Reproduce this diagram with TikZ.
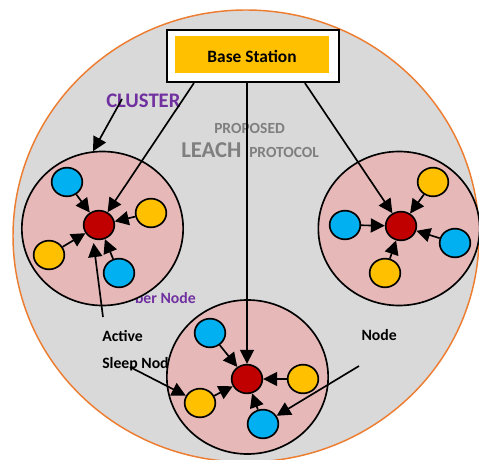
\documentclass[tikz,border=0pt]{standalone}
\usepackage{fontspec}
\setmainfont{Carlito}
\usetikzlibrary{shapes.geometric,arrows.meta,calc}

\definecolor{fieldgray}{HTML}{D9D9D9}
\definecolor{fieldedge}{HTML}{ED7D31}
\definecolor{clusterpink}{HTML}{E6B9B8}
\definecolor{memberblue}{HTML}{00B0F0}
\definecolor{memberyellow}{HTML}{FFC000}
\definecolor{headred}{HTML}{C00000}
\definecolor{stationorange}{HTML}{FFC000}
\definecolor{labelpurple}{HTML}{7030A0}
\definecolor{labelgray}{HTML}{7F7F7F}

\begin{document}
\begin{tikzpicture}[x=0.75pt,y=-0.75pt,
  cluster/.style={ellipse, draw=black, line width=1.25pt, fill=clusterpink,
    minimum width=121pt, minimum height=115.5pt, inner sep=0pt},
  sensor/.style={ellipse, draw=black, line width=1.25pt,
    minimum width=23pt, minimum height=21.5pt, inner sep=0pt},
  bluenode/.style={sensor, fill=memberblue},
  yellownode/.style={sensor, fill=memberyellow},
  headnode/.style={sensor, fill=headred},
  link/.style={line width=1.25pt, -{Triangle[length=10.5pt,width=10.5pt]}},
  lbl/.style={font=\bfseries\fontsize{11.8}{14}\selectfont, inner sep=0pt},
  smallcap/.style={font=\bfseries\fontsize{11.6}{14}\selectfont, text=labelgray, inner sep=0pt}
]
\useasboundingbox (0,0) rectangle (479,460);
\clip (0,0) rectangle (479,460);

% sensor field
\draw[fill=fieldgray, draw=fieldedge, line width=1.1pt]
  (246,236) ellipse [x radius=174.75pt, y radius=169.5pt];

% labels partly covered by the clusters
\node[lbl, text=labelpurple, anchor=base east] (memberlbl) at (196,303) {ber Node};
\node[lbl, anchor=base west] (sleeplbl) at (102,368) {Sleep Nod};

% clusters
\node[cluster] (clL) at (102.5,228.5) {};
\node[cluster] (clR) at (399,228.5) {};
\node[cluster] (clB) at (247.5,377) {};

% base station
\node[draw=black, line width=1.6pt, fill=white, minimum width=129pt, minimum height=39pt,
  inner sep=0pt] (bs) at (253,56) {};
\node[fill=stationorange, minimum width=115.5pt, minimum height=27.75pt, inner sep=0pt]
  (bsfill) at (252,54.5) {};
\node[font=\bfseries\fontsize{13}{15}\selectfont, anchor=base, inner sep=0pt]
  (bstext) at (252,63) {Base Station};

% titles
\node[font=\bfseries\fontsize{15.5}{18}\selectfont, text=labelpurple, anchor=base west,
  inner sep=0pt] (cltext) at (106,108) {CLUSTER};
\node[smallcap, anchor=base west] (proposed) at (214,133) {PROPOSED};
\node[font=\bfseries\fontsize{17}{20}\selectfont, text=labelgray, anchor=base west,
  inner sep=0pt] (leach) at (181,157) {LEACH};
\node[smallcap, anchor=base west] (protocol) at (249,157) {PROTOCOL};

% other labels
\node[lbl, anchor=base west] (activelbl) at (102,341) {Active};
\node[lbl, anchor=base east] (nodelbl) at (397,340) {Node};

% left cluster
\node[headnode] (hL) at (99,225) {};
\node[bluenode] (bL1) at (67,182) {};
\node[yellownode] (yL1) at (151,213) {};
\node[yellownode] (yL2) at (49,255) {};
\node[bluenode] (bL2) at (119,273) {};

% right cluster
\node[headnode] (hR) at (401,226) {};
\node[yellownode] (yR1) at (433,182) {};
\node[bluenode] (bR1) at (345,225) {};
\node[bluenode] (bR2) at (455,243) {};
\node[yellownode] (yR2) at (385,273) {};

% bottom cluster
\node[headnode] (hB) at (247,379) {};
\node[bluenode] (bB1) at (210,333) {};
\node[yellownode] (yB1) at (303,379) {};
\node[yellownode] (yB2) at (200,403) {};
\node[bluenode] (bB2) at (263,424) {};

% members report to their cluster heads
\foreach \m in {bL1,yL1,yL2,bL2} \draw[link] (\m) -- (hL);
\foreach \m in {yR1,bR1,bR2,yR2} \draw[link] (\m) -- (hR);
\foreach \m in {bB1,yB1,yB2,bB2} \draw[link] (\m) -- (hB);

% cluster heads to base station
\draw[link] ($(bs.south west)+(28,0)$) -- (hL);
\draw[link] (bs.south -| hB) -- (hB);
\draw[link] ($(bs.south west)+(139,0)$) -- (hR);

% label pointers
\coordinate (clpt) at (122,99);
\coordinate (actpt) at (103,317);
\coordinate (slpt) at (130,367);
\coordinate (ndpt) at (359,366);
\draw[link] (clpt) -- (clL.97);
\draw[link, shorten >=3pt] (actpt) -- (hL.247);
\draw[link] (slpt) -- (yB2);
\draw[link] (ndpt) -- (bB2);
\end{tikzpicture}
\end{document}
